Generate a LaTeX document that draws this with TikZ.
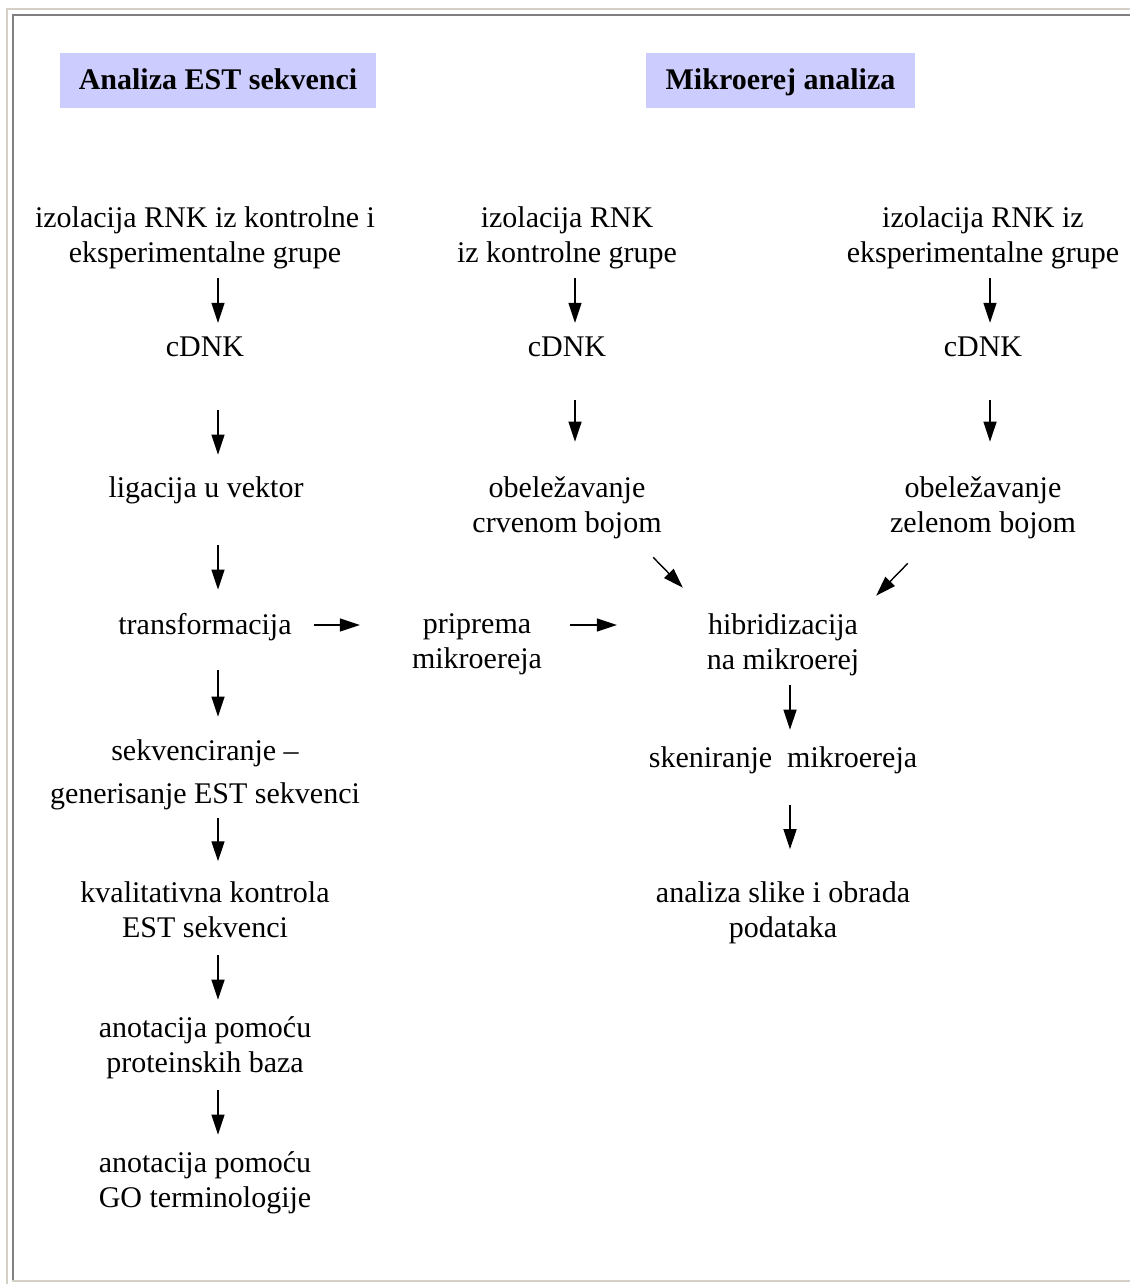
\documentclass[tikz,border=0pt]{standalone}
\usepackage{fontspec}
\setmainfont{Liberation Serif}
\usepackage{tikz}
\usetikzlibrary{arrows.meta}
\usetikzlibrary{calc}
\definecolor{headblue}{RGB}{204,204,255}
\definecolor{framelight}{RGB}{212,208,200}
\definecolor{framedark}{RGB}{128,128,128}

\begin{document}
\begin{tikzpicture}[x=1pt, y=-1pt,
		T/.style = {align=center, inner sep=0pt, font=\fontsize{30}{35}\selectfont},
		H/.style = {fill=headblue, inner sep=0pt, minimum height=55pt,
			text height=22pt, text depth=3pt,
			font=\fontsize{30}{35}\selectfont\bfseries},
		flow/.style = {-{Triangle[length=20pt,width=13pt]}, line width=1.4pt}
		]
		\useasboundingbox (0,0) rectangle (1130,1284);
		% frame
		\draw[framelight, line width=2pt] (7,1284) -- (7,9) -- (1130,9);
		\draw[framedark, line width=2pt] (13,1281) -- (13,15) -- (1130,15);
		\draw[framelight, line width=2pt] (12,1281) -- (1130,1281);
		
		\node[H, minimum width=316pt] (h1) at (218,80.5) {Analiza EST sekvenci};
		\node[H, minimum width=269pt] (h2) at (780.5,80.5) {Mikroerej analiza};
		
		\begin{scope}[nodes=T]
			% EST
			\node (1) at (205,237.5) {izolacija RNK iz kontrolne i\\eksperimentalne grupe};
			\node (2) at (205,347)   {cDNK};
			\node (3) at (206,490)   {ligacija u vektor};
			\node (4) at (205,627)   {transformacija};
			\node (5) at (205,774.5) {sekvenciranje –\\[8pt]generisanje EST sekvenci};
			\node (6) at (205,910)   {kvalitativna kontrola\\EST sekvenci};
			\node (7) at (205,1047.5) {anotacija pomoću\\proteinskih baza};
			\node (8) at (205,1182.5) {anotacija pomoću\\GO terminologije};
			% mikroerej
			\node (9) at (567,237.5)  {izolacija RNK\\iz kontrolne grupe};
			\node (10) at (567,347)   {cDNK};
			\node (11) at (567,507.5) {obeležavanje\\crvenom bojom};
			\node (12) at (477,644.5) {priprema\\mikroereja};
			
			\node (13) at (983,237.5) {izolacija RNK iz\\eksperimentalne grupe};
			\node (14) at (983,347)   {cDNK};
			\node (15) at (983,507.5) {obeležavanje\\zelenom bojom};
			
			\node (16) at (783,644.5) {hibridizacija\\na mikroerej};
			\node (17) at (783,760)   {skeniranje\ \ mikroereja};
			\node (18) at (783,913)   {analiza slike i obrada\\podataka};
		\end{scope}
		
		\draw ([xshift=13pt]1.south) edge[flow, shorten <=9.5pt, shorten >=14pt] ([xshift=13pt]2.north);
		\draw ([xshift=13pt]2.south) edge[flow, shorten <=53pt, shorten >=21.5pt] ([xshift=12pt]3.north);
		\draw ([xshift=12pt]3.south) edge[flow, shorten <=41.5pt, shorten >=23.5pt] ([xshift=13pt]4.north);
		\draw ([xshift=13pt]4.south) edge[flow, shorten <=29.5pt, shorten >=22.5pt] ([xshift=13pt]5.north);
		\draw ([xshift=13pt]5.south) edge[flow, shorten <=8.5pt, shorten >=20.5pt] ([xshift=13pt]6.north);
		\draw ([xshift=13pt]6.south) edge[flow, shorten <=17pt, shorten >=16.5pt] ([xshift=13pt]7.north);
		\draw ([xshift=13pt]7.south) edge[flow, shorten <=11.5pt, shorten >=16.5pt] ([xshift=13pt]8.north);
		
		\draw ([xshift=8pt]9.south) edge[flow, shorten <=9.5pt, shorten >=14pt] ([xshift=8pt]10.north);
		\draw ([xshift=8pt]10.south) edge[flow, shorten <=43pt, shorten >=34.5pt] ([xshift=8pt]11.north);
		\draw ([xshift=7pt]13.south) edge[flow, shorten <=9.5pt, shorten >=14pt] ([xshift=7pt]14.north);
		\draw ([xshift=7pt]14.south) edge[flow, shorten <=43pt, shorten >=34.5pt] ([xshift=7pt]15.north);
		
		\draw ([yshift=2pt]4.east) edge[flow, shorten <=22.4pt, shorten >=52pt] ([yshift=19.5pt]12.west);
		\draw ([yshift=19.5pt]12.east) edge[flow, shorten <=28pt, shorten >=89.75pt] ([yshift=19.5pt]16.west);
		
		\draw ([xshift=-8.6pt,yshift=-18.5pt]11.south east) edge[flow] ([xshift=-23.75pt,yshift=25.5pt]16.north west);
		\draw ([xshift=17.9pt,yshift=-24.5pt]15.south west) edge[flow] ([xshift=16.75pt,yshift=17.5pt]16.north east);
		
		\draw ([xshift=7pt]16.south) edge[flow, shorten <=9.5pt, shorten >=16.5pt] ([xshift=7pt]17.north);
		\draw ([xshift=7pt]17.south) edge[flow, shorten <=31.5pt, shorten >=32.5pt] ([xshift=7pt]18.north);
	\end{tikzpicture}
\end{document}
